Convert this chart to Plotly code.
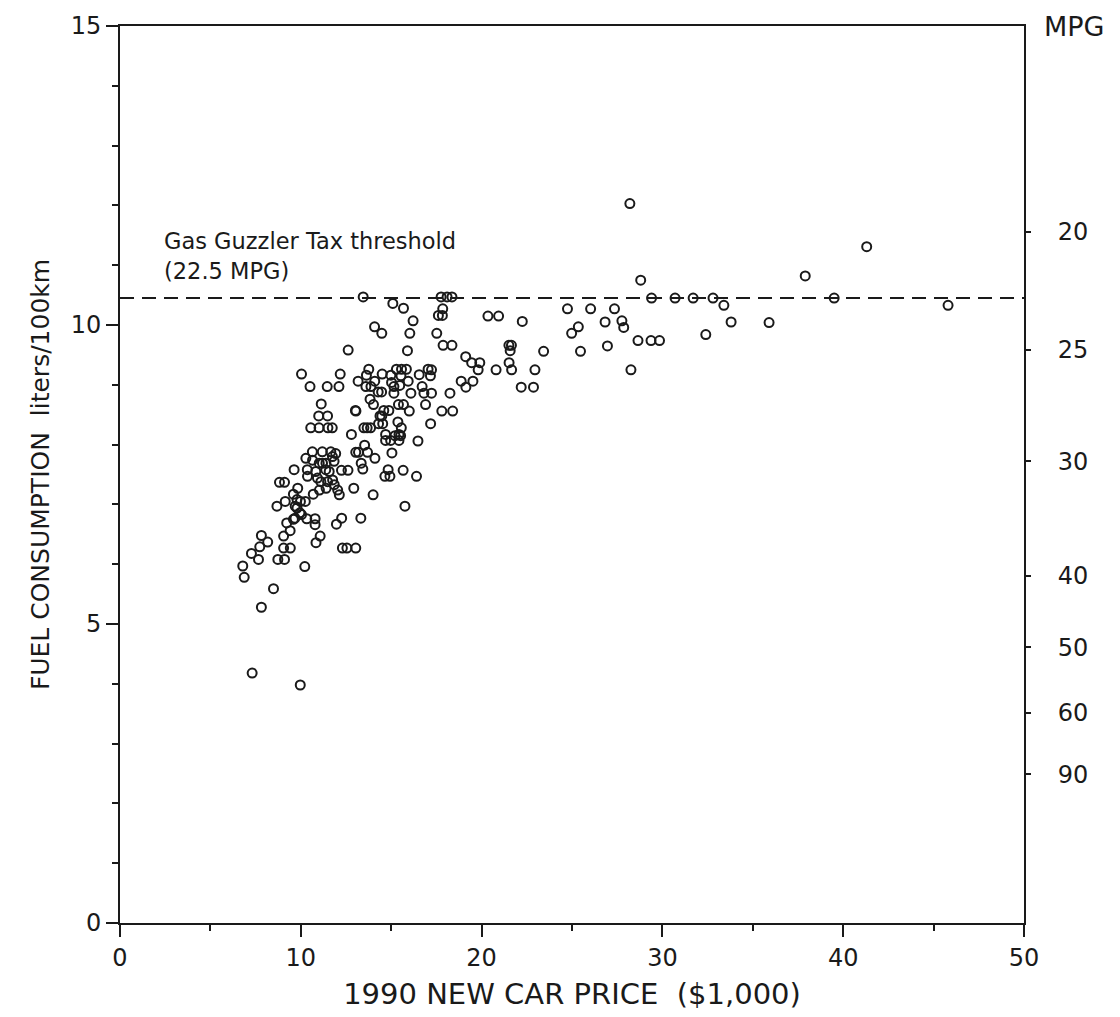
import plotly.graph_objects as go

# Car price ($1,000) and fuel consumption (liters/100km)
price = [
    28.2, 41.3, 37.9, 28.8, 29.4, 30.7, 31.7, 32.8, 39.5, 33.4, 45.8, 33.8, 35.9, 32.4,
    28.65, 29.37, 29.84, 28.26, 24.75, 26.03, 27.35, 26.83, 27.76, 27.86, 25.35, 24.98,
    26.96, 25.47, 23.43, 22.25, 20.35, 20.94, 17.85, 17.61, 17.83, 17.52, 17.87, 18.36,
    21.51, 21.65, 21.58, 21.52, 21.66, 19.12, 19.45, 19.9, 19.81, 20.8, 22.95, 18.87,
    19.52, 19.13, 22.19, 22.87, 18.25, 13.45, 17.76, 18.09, 18.36, 15.09, 15.68, 16.21,
    14.08, 14.48, 16.03, 12.62, 15.9, 10.04, 12.18, 10.51, 11.46, 12.11, 13.76, 13.63,
    13.17, 14.09, 14.5, 14.98, 15.29, 15.57, 15.84, 15.54, 15.94, 16.55, 17.04, 17.23,
    17.17, 16.71, 13.6, 13.88, 14.28, 14.47, 15.02, 15.15, 15.15, 16.09, 16.81, 17.23,
    15.47, 13.83, 14.02, 16.9, 15.4, 15.68, 16.0, 11.13, 10.99, 11.48, 13.02, 13.05,
    14.59, 14.87, 14.38, 14.48, 14.3, 14.53, 17.8, 18.4, 17.18, 10.55, 11.01, 11.5,
    11.74, 13.49, 13.67, 13.86, 15.37, 15.56, 12.8, 14.69, 14.69, 14.97, 15.43, 15.43,
    15.21, 15.52, 16.48, 13.53, 13.69, 13.19, 13.04, 14.1, 15.04, 13.34, 13.43, 15.66,
    14.83, 14.65, 14.93, 16.4, 12.25, 12.61, 12.93, 14.0, 15.76, 13.32, 11.97, 12.26,
    12.3, 12.55, 13.04, 11.07, 10.84, 10.22, 10.64, 11.19, 11.66, 11.93, 11.75, 11.84,
    10.28, 10.65, 11.02, 11.2, 11.39, 9.63, 10.36, 10.83, 11.38, 11.57, 10.37, 10.92,
    11.11, 11.48, 11.76, 11.85, 12.04, 12.13, 8.82, 9.1, 9.83, 11.03, 11.4, 10.69,
    9.59, 9.79, 9.98, 10.25, 9.14, 8.68, 9.69, 9.79, 9.95, 10.04, 9.68, 9.59, 10.33,
    10.79, 10.79, 9.22, 9.41, 9.05, 7.82, 8.17, 7.73, 9.05, 9.42, 7.27, 7.66, 8.73,
    9.1, 6.79, 6.87, 8.49, 7.82, 7.31, 9.97,
]
fuel = [
    12.03, 11.31, 10.82, 10.75, 10.45, 10.45, 10.45, 10.45, 10.45, 10.33, 10.33, 10.05, 10.04, 9.84,
    9.74, 9.74, 9.74, 9.25, 10.27, 10.27, 10.27, 10.05, 10.07, 9.96, 9.97, 9.86,
    9.65, 9.56, 9.56, 10.06, 10.15, 10.15, 10.27, 10.16, 10.16, 9.86, 9.66, 9.66,
    9.66, 9.66, 9.57, 9.37, 9.25, 9.47, 9.37, 9.37, 9.25, 9.25, 9.25, 9.06,
    9.06, 8.96, 8.96, 8.96, 8.86, 10.47, 10.47, 10.47, 10.47, 10.36, 10.28, 10.07,
    9.97, 9.86, 9.86, 9.58, 9.57, 9.18, 9.18, 8.97, 8.97, 8.97, 9.26, 9.16,
    9.06, 9.06, 9.18, 9.16, 9.26, 9.26, 9.26, 9.15, 9.06, 9.17, 9.26, 9.25,
    9.15, 8.97, 8.97, 8.97, 8.88, 8.88, 9.04, 8.97, 8.86, 8.86, 8.86, 8.86,
    8.99, 8.76, 8.67, 8.67, 8.67, 8.67, 8.56, 8.68, 8.48, 8.48, 8.57, 8.56,
    8.57, 8.57, 8.48, 8.48, 8.35, 8.35, 8.56, 8.56, 8.35, 8.28, 8.28, 8.28,
    8.28, 8.28, 8.28, 8.28, 8.38, 8.28, 8.17, 8.17, 8.07, 8.07, 8.07, 8.17,
    8.15, 8.15, 8.06, 7.99, 7.87, 7.87, 7.87, 7.77, 7.86, 7.69, 7.59, 7.57,
    7.58, 7.47, 7.47, 7.47, 7.57, 7.57, 7.27, 7.16, 6.97, 6.77, 6.67, 6.77,
    6.27, 6.27, 6.27, 6.47, 6.36, 5.96, 7.88, 7.88, 7.88, 7.85, 7.80, 7.72,
    7.77, 7.74, 7.69, 7.69, 7.69, 7.58, 7.58, 7.55, 7.58, 7.55, 7.47, 7.44,
    7.38, 7.38, 7.41, 7.33, 7.24, 7.16, 7.37, 7.37, 7.27, 7.24, 7.27, 7.17,
    7.17, 7.08, 7.05, 7.05, 7.05, 6.97, 6.97, 6.94, 6.86, 6.83, 6.77, 6.75, 6.76,
    6.76, 6.66, 6.69, 6.56, 6.47, 6.48, 6.37, 6.29, 6.27, 6.27, 6.18, 6.08, 6.08,
    6.08, 5.97, 5.78, 5.59, 5.28, 4.18, 3.98,
]

threshold = 10.45           # liters/100km  (22.5 MPG)
threshold_label = ["Gas Guzzler Tax threshold", "(22.5 MPG)"]

y_ticks = [0, 5, 10, 15]
x_ticks = [0, 10, 20, 30, 40, 50]

# Right-hand MPG scale: labels and where they sit on the liters/100km scale
mpg_labels = ["20", "25", "30", "40", "50", "60", "90"]
mpg_positions = [11.56, 9.59, 7.72, 5.81, 4.61, 3.52, 2.49]

FONT = "DejaVu Sans, Verdana, sans-serif"
INK = "#1a1a1a"

fig = go.Figure()

fig.add_trace(go.Scatter(
    x=[0, 50], y=[threshold, threshold], mode="lines",
    line=dict(color=INK, width=2, dash="14px,8px"),
    hoverinfo="skip", showlegend=False,
))

fig.add_trace(go.Scatter(
    x=price, y=fuel, mode="markers",
    marker=dict(symbol="circle-open", size=9, color=INK, line=dict(width=2, color=INK)),
    showlegend=False,
))

# invisible trace to activate the right axis
fig.add_trace(go.Scatter(x=[0], y=[0], yaxis="y2", mode="markers",
                         marker=dict(opacity=0), hoverinfo="skip", showlegend=False))

fig.update_layout(
    width=1120, height=1017,
    margin=dict(l=120, r=96, t=21, b=92),
    paper_bgcolor="white", plot_bgcolor="white",
    font=dict(family=FONT, color=INK, size=22),
    xaxis=dict(
        range=[0, 50], tickvals=x_ticks, ticks="outside", ticklen=12, tickwidth=2,
        tickcolor=INK, showline=True, linewidth=2, linecolor=INK, mirror=True,
        showgrid=False, zeroline=False,
        minor=dict(dtick=5, tick0=0, ticks="outside", ticklen=6, tickwidth=2, tickcolor=INK, showgrid=False),
        tickfont=dict(size=24),
        title=dict(text="1990 NEW CAR PRICE  ($1,000)", font=dict(size=29), standoff=13),
    ),
    yaxis=dict(
        range=[0, 15], tickvals=y_ticks, ticks="outside", ticklen=12, tickwidth=2,
        tickcolor=INK, showline=True, linewidth=2, linecolor=INK, mirror=True,
        showgrid=False, zeroline=False,
        minor=dict(dtick=1, tick0=0, ticks="outside", ticklen=6, tickwidth=2, tickcolor=INK, showgrid=False),
        tickfont=dict(size=24),
        title=dict(text="FUEL CONSUMPTION  liters/100km", font=dict(size=25), standoff=14),
    ),
    yaxis2=dict(
        range=[0, 15], overlaying="y", side="right", tickvals=mpg_positions, ticktext=mpg_labels,
        ticks="outside", ticklen=6, tickwidth=2, tickcolor=INK, showline=False,
        showgrid=False, zeroline=False, tickfont=dict(size=24), ticklabelstandoff=22,
    ),
    annotations=[
        dict(x=1.02, y=15, xref="paper", yref="y", text="MPG", showarrow=False,
             xanchor="left", yanchor="middle", font=dict(size=27)),
        dict(x=2.3, y=11.4, xref="x", yref="y", text=threshold_label[0], showarrow=False,
             xanchor="left", yanchor="middle", font=dict(size=22.5)),
        dict(x=2.3, y=10.9, xref="x", yref="y", text=threshold_label[1], showarrow=False,
             xanchor="left", yanchor="middle", font=dict(size=22.5)),
    ],
)

fig.write_html("out.html")
